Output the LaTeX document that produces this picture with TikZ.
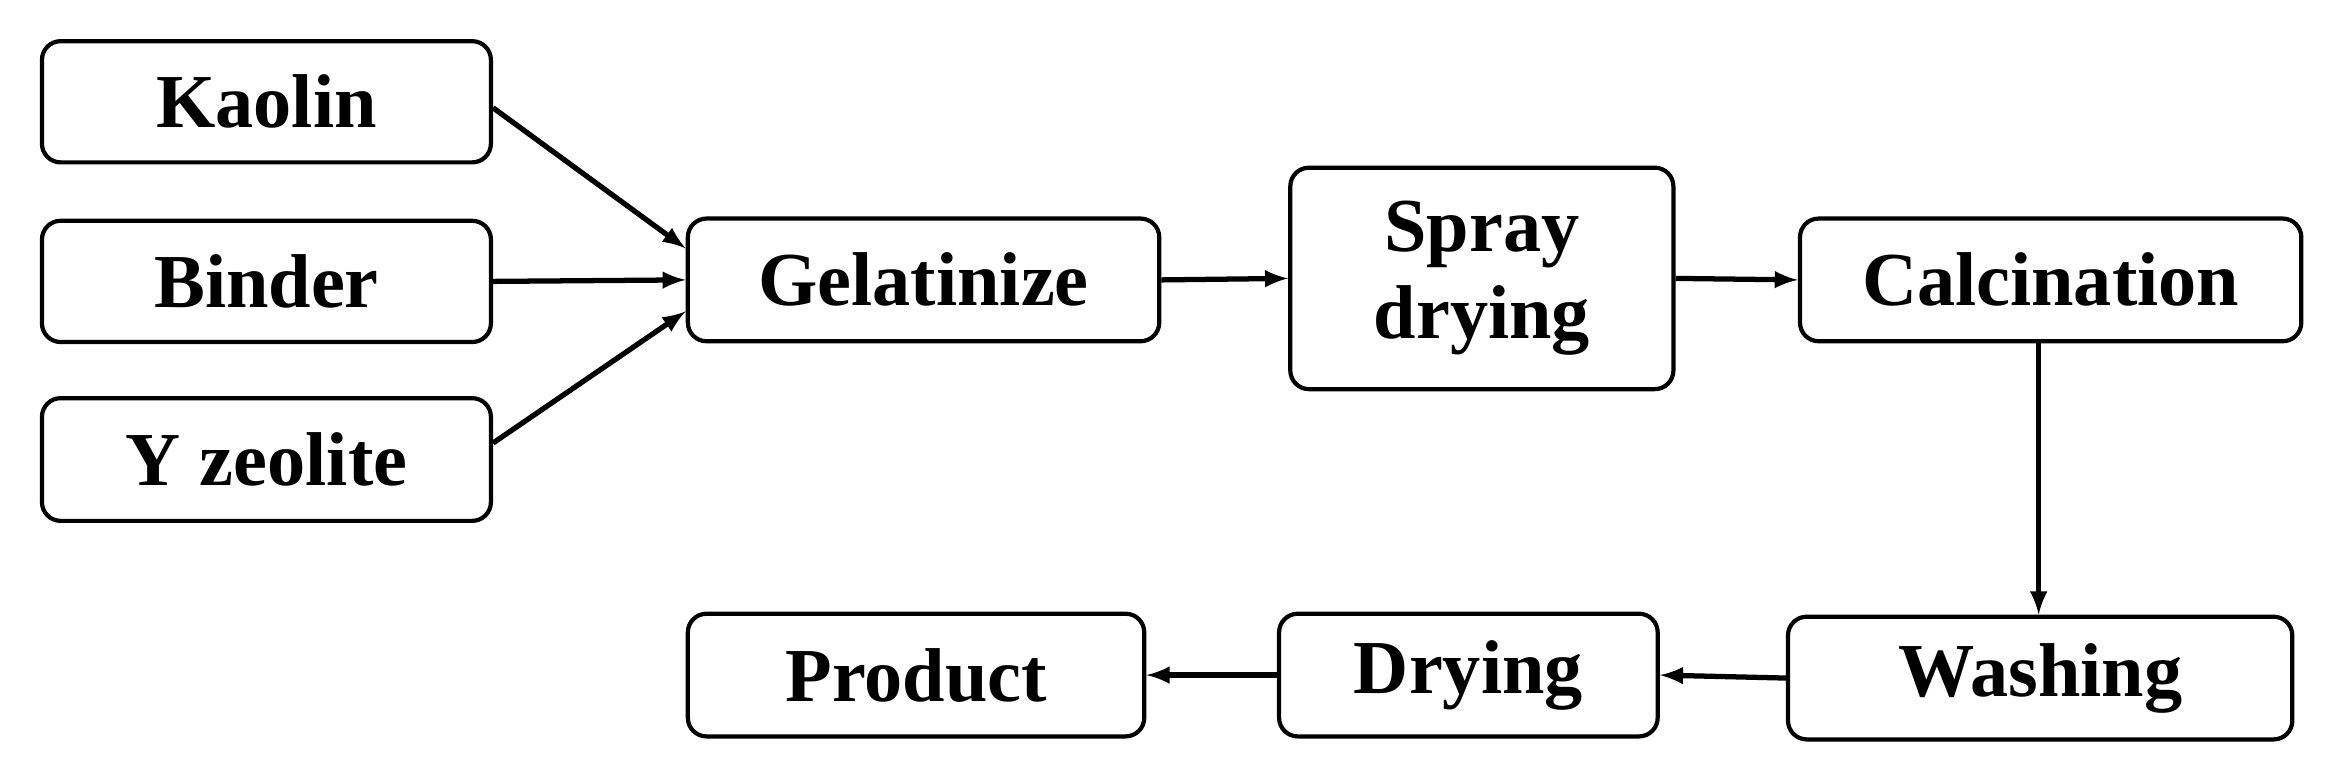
\documentclass[tikz,border=0pt]{standalone}
\usepackage{fontspec}
\setmainfont{Liberation Serif}
\begin{document}
\begin{tikzpicture}[x=0.02cm,y=-0.02cm,
  box/.style={draw,line width=1.6pt,rounded corners=0.25cm,font=\fontsize{29}{33}\selectfont\bfseries,align=center,inner sep=0pt},
  arr/.style={-latex,line width=2pt}]
\useasboundingbox (0,0) rectangle (1568,520);
\node[box,minimum width=6cm,minimum height=1.62cm] (k) at (178,68) {Kaolin};
\node[box,minimum width=6cm,minimum height=1.62cm] (b) at (178,188) {Binder};
\node[box,minimum width=6cm,minimum height=1.64cm] (y) at (178,307) {Y zeolite};
\node[box,minimum width=6.3cm,minimum height=1.64cm] (g) at (617,187) {Gelatinize};
\node[box,minimum width=5.12cm,minimum height=2.96cm] (s) at (990,186) {Spray\\drying};
\node[box,minimum width=6.7cm,minimum height=1.64cm] (c) at (1370,187) {Calcination};
\node[box,minimum width=6.74cm,minimum height=1.64cm] (w) at (1363,453) {Washing};
\node[box,minimum width=5.06cm,minimum height=1.64cm] (d) at (981,451) {Drying};
\node[box,minimum width=6.1cm,minimum height=1.64cm] (p) at (612,451) {Product};
\draw[arr] (k.east) ++(0,4) -- ([yshift=0.42cm]g.west);
\draw[arr] (b.east) -- (g.west);
\draw[arr] (y.east) ++(0,-11) -- ([yshift=-0.42cm]g.west);
\draw[arr] (g.east) -- (s.west);
\draw[arr] (s.east) -- (c.east -| c.west);
\draw[arr] (c.south -| 1362,0) -- (w.north -| 1362,0);
\draw[arr] (w.west) -- (d.east);
\draw[arr] (d.west) -- (p.east);
\end{tikzpicture}
\end{document}
